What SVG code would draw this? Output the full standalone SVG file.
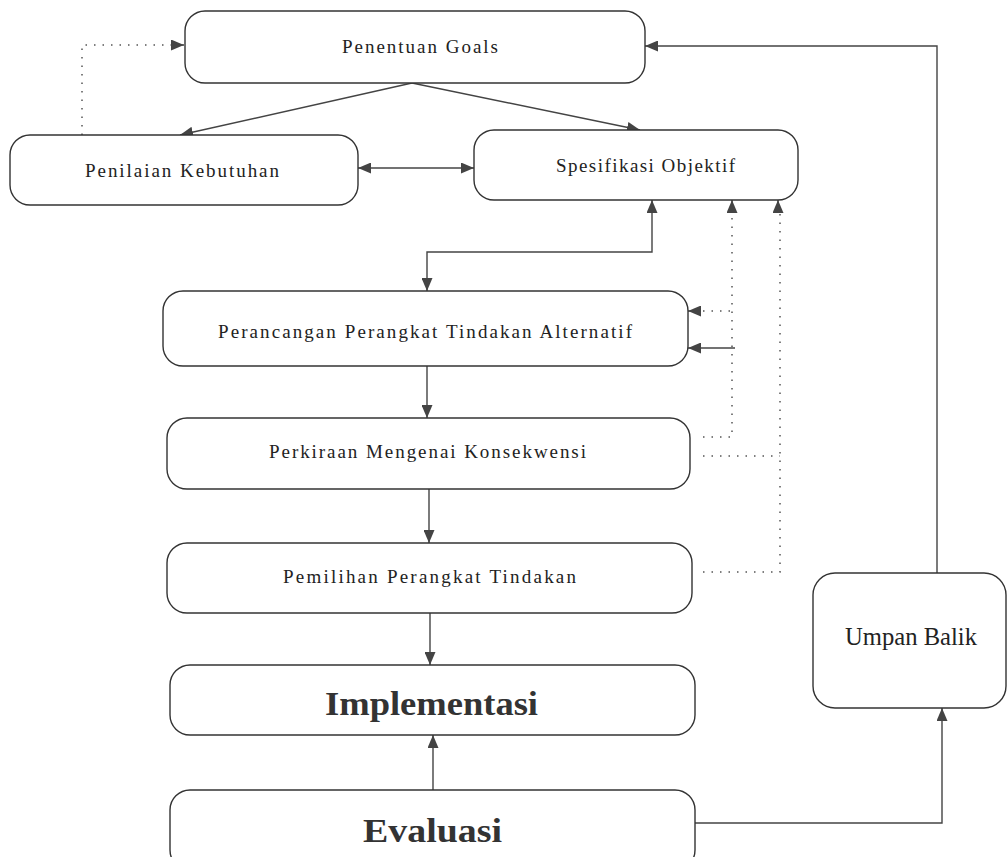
<svg xmlns="http://www.w3.org/2000/svg" width="1008" height="857" viewBox="0 0 1008 857">
<style>
.box{fill:#fff;stroke:#333;stroke-width:1.4}
.t{font-family:"Liberation Serif",serif;font-size:19px;fill:#222}
.b{font-family:"Liberation Serif",serif;font-size:34px;font-weight:bold;fill:#333}
.u{font-family:"Liberation Serif",serif;font-size:25px;fill:#222}
.s{fill:none;stroke:#444;stroke-width:1.4}
.d{fill:none;stroke:#555;stroke-width:1.5;stroke-dasharray:1.5 7}
</style>
<defs>
<marker id="a" viewBox="0 0 13 11" refX="13" refY="5.5" markerWidth="13" markerHeight="11" markerUnits="userSpaceOnUse" orient="auto-start-reverse">
<path d="M0,0 L13,5.5 L0,11 Z" fill="#444"/>
</marker>
</defs>
<rect width="1008" height="857" fill="#fff"/>
<g id="connectors">
<polyline class="d" points="82,135 82,45 172,45"/>
<path class="s" d="M182,45 L184,45" marker-end="url(#a)"/>
<line class="s" x1="412" y1="83" x2="180" y2="135" marker-end="url(#a)"/>
<line class="s" x1="412" y1="83" x2="640" y2="130" marker-end="url(#a)"/>
<line class="s" x1="358" y1="168" x2="474" y2="168" marker-start="url(#a)" marker-end="url(#a)"/>
<polyline class="s" points="937,573 937,46 645,46" marker-end="url(#a)"/>
<polyline class="s" points="652,200 652,252 427,252 427,291" marker-start="url(#a)" marker-end="url(#a)"/>
<polyline class="d" points="703,437 732,437 732,212"/>
<path class="s" d="M732,213 L732,200" marker-end="url(#a)"/>
<polyline class="d" points="703,456 780,456"/>
<polyline class="d" points="703,572 780,572 780,212"/>
<path class="s" d="M778,213 L778,200" marker-end="url(#a)"/>
<polyline class="d" points="730,311 701,311"/>
<path class="s" d="M700,311 L688,311" marker-end="url(#a)"/>
<line class="s" x1="735" y1="348" x2="688" y2="348" marker-end="url(#a)"/>
<line class="s" x1="427" y1="366" x2="427" y2="418" marker-end="url(#a)"/>
<line class="s" x1="429" y1="489" x2="429" y2="543" marker-end="url(#a)"/>
<line class="s" x1="430" y1="613" x2="430" y2="665" marker-end="url(#a)"/>
<line class="s" x1="433" y1="790" x2="433" y2="735" marker-end="url(#a)"/>
<polyline class="s" points="695,823 942,823 942,708" marker-end="url(#a)"/>
</g>
<g id="goals"><rect class="box" x="185" y="11" width="460" height="72" rx="20"/><text class="t" x="342" y="53" textLength="156" lengthAdjust="spacing">Penentuan Goals</text></g>
<g id="kebutuhan"><rect class="box" x="10" y="135" width="348" height="70" rx="20"/><text class="t" x="85" y="177" textLength="194" lengthAdjust="spacing">Penilaian Kebutuhan</text></g>
<g id="objektif"><rect class="box" x="474" y="130" width="324" height="70" rx="20"/><text class="t" x="556" y="172" textLength="179" lengthAdjust="spacing">Spesifikasi Objektif</text></g>
<g id="perancangan"><rect class="box" x="163" y="291" width="525" height="75" rx="20"/><text class="t" x="218" y="338" textLength="414" lengthAdjust="spacing">Perancangan Perangkat Tindakan Alternatif</text></g>
<g id="perkiraan"><rect class="box" x="167" y="418" width="523" height="71" rx="20"/><text class="t" x="269" y="458" textLength="317" lengthAdjust="spacing">Perkiraan Mengenai Konsekwensi</text></g>
<g id="pemilihan"><rect class="box" x="167" y="543" width="525" height="70" rx="20"/><text class="t" x="283" y="583" textLength="293" lengthAdjust="spacing">Pemilihan Perangkat Tindakan</text></g>
<g id="implementasi"><rect class="box" x="170" y="665" width="525" height="70" rx="20"/><text class="b" x="325" y="715" textLength="213" lengthAdjust="spacingAndGlyphs">Implementasi</text></g>
<g id="evaluasi"><rect class="box" x="170" y="790" width="525" height="80" rx="20"/><text class="b" x="363" y="842" textLength="139" lengthAdjust="spacingAndGlyphs">Evaluasi</text></g>
<g id="umpan"><rect class="box" x="813" y="573" width="193" height="135" rx="22"/><text class="u" x="845" y="645" textLength="132" lengthAdjust="spacingAndGlyphs">Umpan Balik</text></g>
</svg>
